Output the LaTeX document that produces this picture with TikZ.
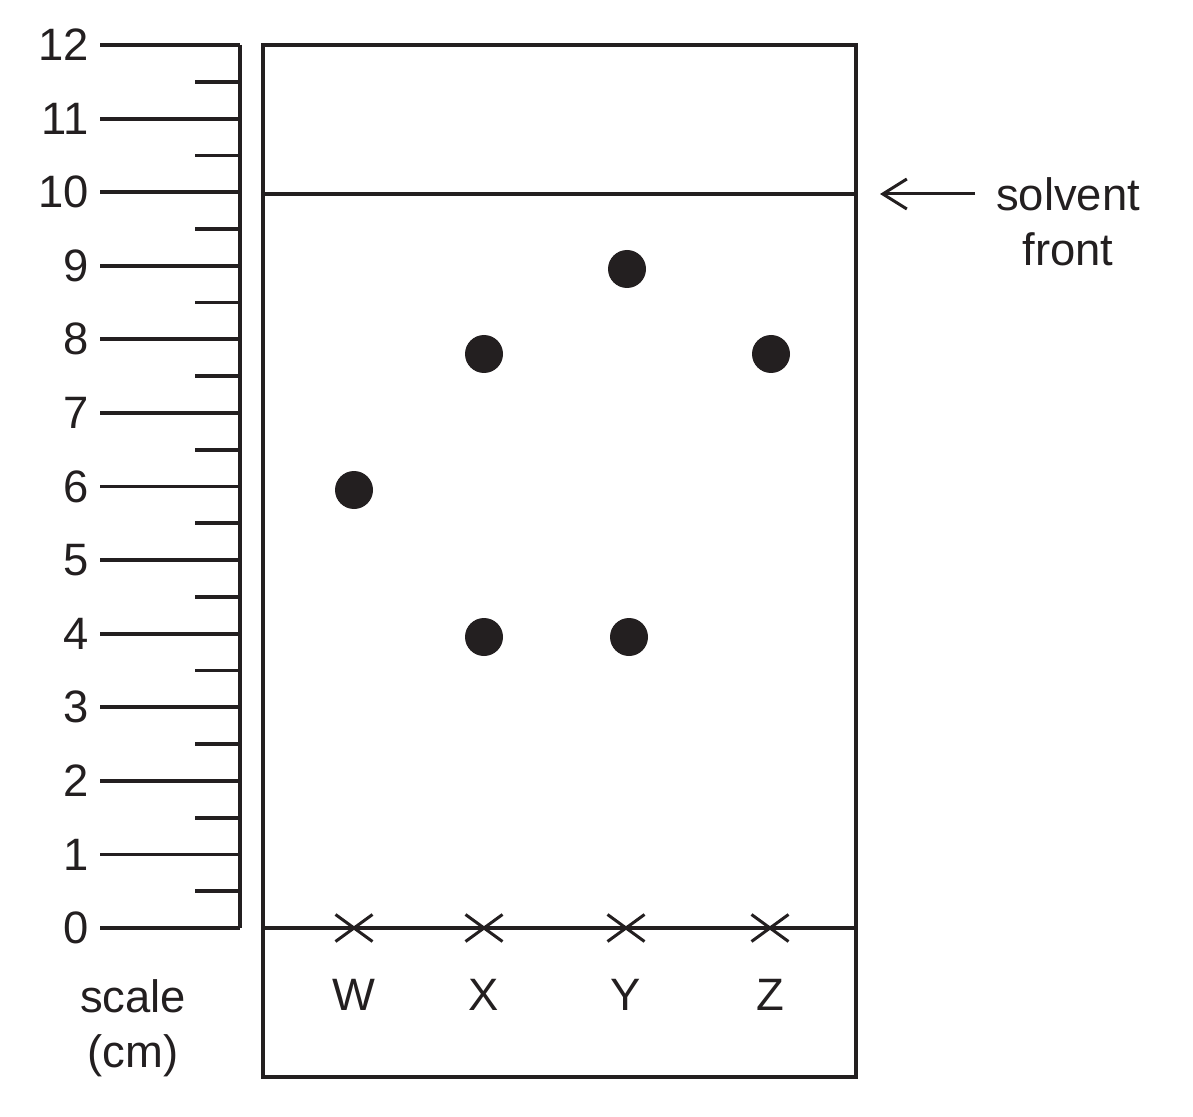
\documentclass[tikz,border=0pt]{standalone}
\usepackage{fontspec}
\setmainfont{Liberation Sans}
\usetikzlibrary{positioning, arrows.meta, shapes.misc}
\definecolor{ink}{RGB}{35,31,32}

\begin{document}
\begin{tikzpicture}[x=0.5pt, y=-0.5pt, line width=1.9pt, draw=ink,
   spot/.style={circle, fill=ink, inner sep=0pt, minimum size=19pt},
   origin/.style={cross out, draw=ink, line width=1.5pt, inner sep=0pt,
                  minimum width=17pt, minimum height=12pt},
   lbl/.style={font=\fontsize{22.7}{27.5}\selectfont, text=ink, inner sep=0pt}]
   \useasboundingbox (0,0) rectangle (1193,1117);

   % scale
   \draw (240,45) -- (240,928);
   \foreach \v in {0,...,12} {
      \draw (100,{928-\v*73.58}) -- (240,{928-\v*73.58});
      \node[lbl, anchor=east] (n\v) at (91,{928-\v*73.58}) {\v};
   }
   \foreach \v in {0,...,11}
      \draw (195,{928-(\v+0.5)*73.58}) -- (240,{928-(\v+0.5)*73.58});
   \node[lbl, align=center] (scale) at (133,1028) {scale\\(cm)};

   % plate
   \draw (263,45) rectangle (856,1077);
   \draw[line width=1.7pt] (263,194) -- (856,194);
   \draw (263,928) -- (856,928);

   \foreach \x/\n in {354/W, 484/X, 626/Y, 770/Z} {
      \node[origin] (o\n) at (\x,928) {};
      \node[lbl] (l\n) at (\x,995) {\n};
   }

   % spots
   \node[spot] (sW)  at (354,490) {};
   \node[spot] (sX1) at (484,354) {};
   \node[spot] (sX2) at (484,637) {};
   \node[spot] (sY1) at (627,269) {};
   \node[spot] (sY2) at (629,637) {};
   \node[spot] (sZ)  at (771,354) {};

   % solvent front
   \node[lbl, align=center] (front) at (1068,222) {solvent\\front};
   \coordinate (tail) at (975,194);
   \coordinate (tip) at (880,194);
   \draw[-{Straight Barb[length=12pt, width=15pt]}, line width=1.5pt] (tail) -- (tip);
\end{tikzpicture}
\end{document}
